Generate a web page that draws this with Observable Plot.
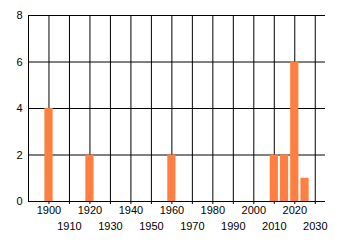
<!DOCTYPE html>
<html>
<head>
<meta charset="utf-8">
<script src="https://cdn.jsdelivr.net/npm/d3@7"></script>
<script src="https://cdn.jsdelivr.net/npm/@observablehq/plot@0.6"></script>
<style>
  html, body { margin: 0; padding: 0; background: #fff; }
</style>
</head>
<body>
<div id="chart"></div>
<script>
const years = [1900, 1920, 1960, 2010, 2015, 2020, 2025];
const counts = [4, 2, 2, 2, 2, 6, 1];
const xTicksRow1 = [1900, 1920, 1940, 1960, 1980, 2000, 2020];
const xTicksRow2 = [1910, 1930, 1950, 1970, 1990, 2010, 2030];
const yTicks = [0, 2, 4, 6, 8];

const data = years.map((y, i) => ({year: y, count: counts[i]}));
const gridX = xTicksRow1.concat(xTicksRow2).sort((a, b) => a - b);

const chart = Plot.plot({
  width: 340,
  height: 245,
  marginLeft: 28,
  marginRight: 15,
  marginTop: 15,
  marginBottom: 44,
  style: {fontFamily: "Liberation Sans, Arial, sans-serif", fontSize: "11px", background: "#fff", color: "#000"},
  x: {domain: [1890, 2035]},
  y: {domain: [0, 8]},
  marks: [
    Plot.ruleY(yTicks, {stroke: "#000", strokeWidth: 1}),
    Plot.ruleX(gridX, {y1: 0, y2: 8, stroke: "#000", strokeWidth: 1}),
    Plot.ruleX([1890], {y1: 0, y2: 8, stroke: "#000", strokeWidth: 1}),
    Plot.rectY(data, {x1: d => d.year - 2, x2: d => d.year + 2, y: "count", fill: "#ff7f40", inset: 0}),
    Plot.ruleY([0], {stroke: "#000", strokeWidth: 1}),
    Plot.axisX(xTicksRow1, {tickSize: 3, tickPadding: 2, tickFormat: d => String(d), label: null, stroke: "#000", strokeOpacity: 1, fill: "#000"}),
    Plot.axisX(xTicksRow2, {tickSize: 3, tickPadding: 18, tickFormat: d => String(d), label: null, stroke: "#000", strokeOpacity: 1, fill: "#000"}),
    Plot.axisY(yTicks, {tickSize: 0, tickPadding: 6, label: null, fill: "#000"})
  ]
});
document.getElementById("chart").appendChild(chart);
</script>
</body>
</html>
